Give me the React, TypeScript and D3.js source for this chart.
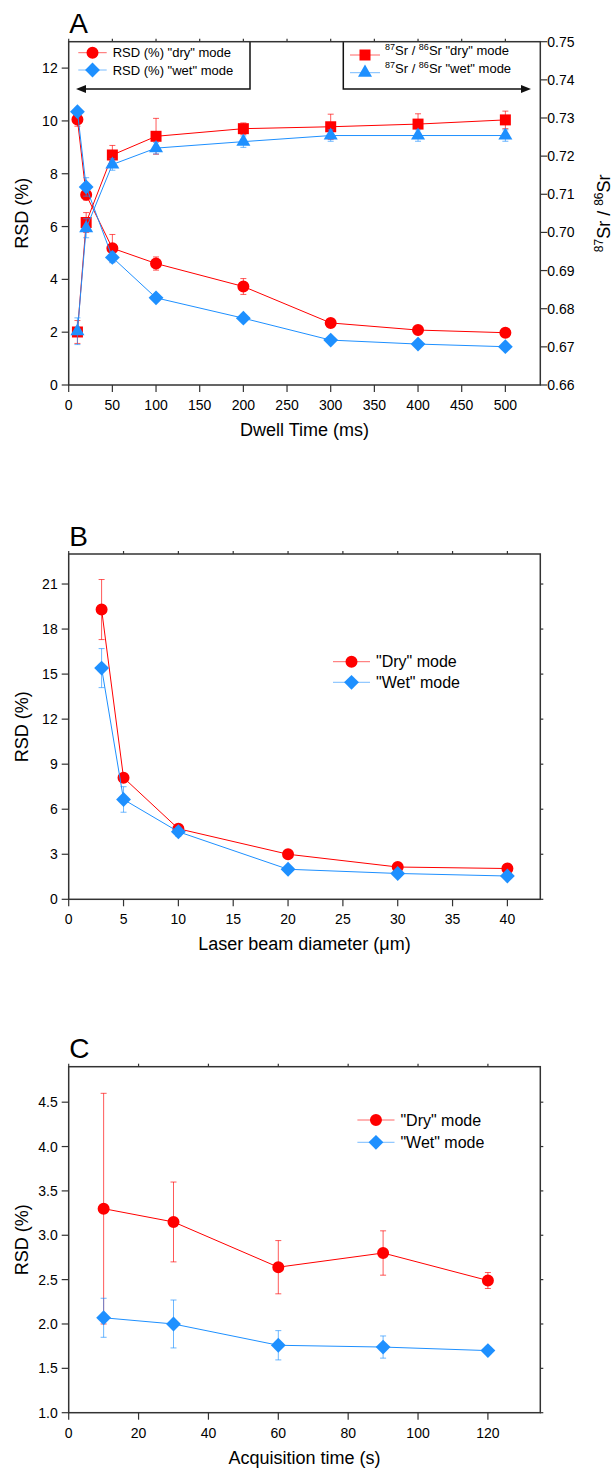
import React from "react";
import * as d3 from "d3";

const FONT = "'Liberation Sans', Arial, Helvetica, sans-serif";
const RED = "#ff0000";
const BLUE = "#1e90ff";
const AXIS = "#333333";

// ---- panel A: dwell time ----
const dwellTime = [10, 20, 50, 100, 200, 300, 400, 500];
const rsdDryA = [10.05, 7.2, 5.18, 4.6, 3.73, 2.35, 2.08, 1.98];
const rsdDryAErr = [0.25, 0.2, 0.52, 0.25, 0.3, 0.15, 0.1, 0.1];
const rsdWetA = [10.35, 7.5, 4.83, 3.3, 2.53, 1.7, 1.55, 1.45];
const rsdWetAErr = [0.1, 0.35, 0.2, 0.1, 0.1, 0.08, 0.08, 0.05];
const srDryA = [0.6739, 0.7026, 0.7203, 0.7252, 0.7272, 0.7277, 0.7284, 0.7295];
const srDryAErr = [0.003, 0.0026, 0.0025, 0.0047, 0.0015, 0.0033, 0.0027, 0.0023];
const srWetA = [0.6741, 0.7011, 0.7178, 0.7221, 0.7238, 0.7254, 0.7254, 0.7254];
const srWetAErr = [0.0035, 0.0025, 0.0015, 0.0015, 0.0015, 0.0015, 0.0015, 0.0015];
const dwellTicks = d3.range(0, 501, 50);
const rsdTicksA = d3.range(0, 13, 2);
const srTicks = d3.range(66, 76).map((d) => d / 100);

// ---- panel B: laser beam diameter ----
const beamDiameter = [3, 5, 10, 20, 30, 40];
const rsdDryB = [19.3, 8.1, 4.7, 3.0, 2.15, 2.05];
const rsdDryBErr = [2.0, 0.25, 0.25, 0.15, 0.15, 0.2];
const rsdWetB = [15.4, 6.65, 4.5, 2.0, 1.72, 1.55];
const rsdWetBErr = [1.3, 0.85, 0.3, 0.15, 0.15, 0.1];
const beamTicks = d3.range(0, 41, 5);
const rsdTicksB = d3.range(0, 22, 3);

// ---- panel C: acquisition time ----
const acqTime = [10, 30, 60, 90, 120];
const rsdDryC = [3.3, 3.15, 2.64, 2.8, 2.49];
const rsdDryCErr = [1.3, 0.45, 0.3, 0.25, 0.09];
const rsdWetC = [2.07, 2.0, 1.76, 1.74, 1.7];
const rsdWetCErr = [0.22, 0.27, 0.165, 0.125, 0.04];
const acqTicks = d3.range(0, 121, 20);
const rsdTicksC = d3.range(1, 4.51, 0.5);

const diamond = {
  draw(ctx: any, size: number) {
    const r = Math.sqrt(size / 2);
    ctx.moveTo(0, -r);
    ctx.lineTo(r, 0);
    ctx.lineTo(0, r);
    ctx.lineTo(-r, 0);
    ctx.closePath();
  },
};

const SYM: any = {
  circle: { type: d3.symbolCircle, size: 113 },
  diamond: { type: diamond, size: 110 },
  square: { type: d3.symbolSquare, size: 121 },
  triangle: { type: d3.symbolTriangle, size: 85 },
};

const symPath = (s: string) => d3.symbol().type(SYM[s].type).size(SYM[s].size)() as string;

const LEFT = 68.7;
const RIGHT = 540.3;

function Series({ x, y, err, color, symbol, xs, ys }: any) {
  const line = d3
    .line<number>()
    .x((d, i) => xs(x[i]))
    .y((d) => ys(d));
  const marker = symPath(symbol);
  return (
    <g>
      {y.map((v: number, i: number) => {
        const cx = xs(x[i]);
        const y1 = ys(v + err[i]);
        const y2 = ys(v - err[i]);
        return (
          <g key={"e" + i} stroke={color} strokeOpacity={0.65} strokeWidth={1}>
            <line x1={cx} x2={cx} y1={y1} y2={y2} />
            <line x1={cx - 3} x2={cx + 3} y1={y1} y2={y1} />
            <line x1={cx - 3} x2={cx + 3} y1={y2} y2={y2} />
          </g>
        );
      })}
      <path d={line(y) as string} fill="none" stroke={color} strokeWidth={1} />
      {y.map((v: number, i: number) => (
        <path key={"m" + i} d={marker} transform={`translate(${xs(x[i])},${ys(v)})`} fill={color} />
      ))}
    </g>
  );
}

function LegendRow({ x1, x2, y, textX, color, symbol, fontSize, children, lineOpacity = 0.6 }: any) {
  const cx = (x1 + x2) / 2;
  return (
    <g>
      <line x1={x1} x2={x2} y1={y} y2={y} stroke={color} strokeOpacity={lineOpacity} strokeWidth={1} />
      <path d={symPath(symbol)} transform={`translate(${cx},${y})`} fill={color} />
      <text x={textX} y={y} dy="0.36em" fontSize={fontSize} fontFamily={FONT} fill="#000">
        {children}
      </text>
    </g>
  );
}

function Panel({ top, bottom, xDomain, yDomain, xTicks, yTicks, yFmt, xTitle, label, series, y2, children, mirrorRight = true }: any) {
  const xs = d3.scaleLinear().domain(xDomain).range([LEFT, RIGHT]);
  const ys = d3.scaleLinear().domain(yDomain).range([bottom, top]);
  const y2s = y2 ? d3.scaleLinear().domain(y2.domain).range([bottom, top]) : null;
  const fmt = d3.format(yFmt);
  const midY = (top + bottom) / 2;
  return (
    <g fontFamily={FONT}>
      <text x={LEFT + 0.5} y={top - 8.5} fontSize={28} fill="#000">
        {label}
      </text>
      {series.map((s: any, i: number) => (
        <Series key={i} {...s} xs={xs} ys={s.axis === "y2" && y2s ? y2s : ys} />
      ))}
      {children}
      <rect x={LEFT} y={top} width={RIGHT - LEFT} height={bottom - top} fill="none" stroke={AXIS} strokeWidth={1.5} />
      {/* bottom axis */}
      {xTicks.map((t: number) => (
        <g key={"x" + t}>
          <line x1={xs(t)} x2={xs(t)} y1={bottom} y2={bottom + 7} stroke={AXIS} strokeWidth={1.2} />
          <line x1={xs(t)} x2={xs(t)} y1={top} y2={top - 3} stroke={AXIS} strokeWidth={1.2} />
          <text x={xs(t)} y={bottom + 25} textAnchor="middle" fontSize={14}>
            {t}
          </text>
        </g>
      ))}
      {/* left axis */}
      {yTicks.map((t: number) => (
        <g key={"y" + t}>
          <line x1={LEFT - 7} x2={LEFT} y1={ys(t)} y2={ys(t)} stroke={AXIS} strokeWidth={1.2} />
          {mirrorRight && <line x1={RIGHT} x2={RIGHT + 3} y1={ys(t)} y2={ys(t)} stroke={AXIS} strokeWidth={1.2} />}
          <text x={LEFT - 11} y={ys(t)} dy="0.36em" textAnchor="end" fontSize={14}>
            {fmt(t)}
          </text>
        </g>
      ))}
      {/* right axis */}
      {y2s &&
        y2.ticks.map((t: number) => (
          <g key={"r" + t}>
            <line x1={RIGHT} x2={RIGHT + 7} y1={y2s(t)} y2={y2s(t)} stroke={AXIS} strokeWidth={1.2} />
            <text x={RIGHT + 7} y={y2s(t)} dy="0.36em" fontSize={14}>
              {d3.format(".2f")(t)}
            </text>
          </g>
        ))}
      <text x={(LEFT + RIGHT) / 2} y={bottom + 51} textAnchor="middle" fontSize={18}>
        {xTitle}
      </text>
      <text transform={`translate(28,${midY}) rotate(-90)`} textAnchor="middle" fontSize={18}>
        RSD (%)
      </text>
      {y2 && (
        <text transform={`translate(609.5,${midY}) rotate(-90)`} textAnchor="middle" fontSize={18}>
          <tspan fontSize={12} dy="-7">87</tspan>
          <tspan dy="7">Sr / </tspan>
          <tspan fontSize={12} dy="-7">86</tspan>
          <tspan dy="7">Sr</tspan>
        </text>
      )}
    </g>
  );
}

function Sr({ a, b }: any) {
  return (
    <>
      <tspan fontSize={9} dy="-5">{a}</tspan>
      <tspan dy="5">Sr / </tspan>
      <tspan fontSize={9} dy="-5">{b}</tspan>
      <tspan dy="5">Sr </tspan>
    </>
  );
}

export default function App() {
  const topA = 41.7;
  const boxBottom = 89;
  return (
    <svg width={613} height={1470} style={{ position: "absolute", left: 0, top: 0, background: "#fff" }}>
      <Panel
        top={topA}
        bottom={385}
        xDomain={[0, 540]}
        yDomain={[0, 13]}
        xTicks={dwellTicks}
        yTicks={rsdTicksA}
        yFmt="d"
        xTitle="Dwell Time (ms)"
        label="A"
        mirrorRight={false}
        y2={{ domain: [0.66, 0.75], ticks: srTicks }}
        series={[
          { x: dwellTime, y: rsdDryA, err: rsdDryAErr, color: RED, symbol: "circle" },
          { x: dwellTime, y: rsdWetA, err: rsdWetAErr, color: BLUE, symbol: "diamond" },
          { x: dwellTime, y: srDryA, err: srDryAErr, color: RED, symbol: "square", axis: "y2" },
          { x: dwellTime, y: srWetA, err: srWetAErr, color: BLUE, symbol: "triangle", axis: "y2" },
        ]}
      >
        <g stroke="#111" strokeWidth={1.5} fill="none">
          <polyline points={`250,${topA} 250,${boxBottom} 84,${boxBottom}`} />
          <polyline points={`343.3,${topA} 343.3,${boxBottom} 523,${boxBottom}`} />
        </g>
        <path d={`M76,${boxBottom} L86,${boxBottom - 4} L86,${boxBottom + 4} Z`} fill="#111" />
        <path d={`M531,${boxBottom} L521,${boxBottom - 4} L521,${boxBottom + 4} Z`} fill="#111" />
        <LegendRow x1={78.3} x2={106.7} y={52.7} textX={112.7} color={RED} symbol="circle" fontSize={13}>
          RSD (%) "dry" mode
        </LegendRow>
        <LegendRow x1={78.3} x2={106.7} y={70} textX={112.7} color={BLUE} symbol="diamond" fontSize={13}>
          RSD (%) "wet" mode
        </LegendRow>
        <LegendRow x1={350} x2={380} y={55} textX={385} color={RED} symbol="square" fontSize={13}>
          <Sr a="87" b="86" />"dry" mode
        </LegendRow>
        <LegendRow x1={350} x2={380} y={72.7} textX={385} color={BLUE} symbol="triangle" fontSize={13}>
          <Sr a="87" b="86" />"wet" mode
        </LegendRow>
      </Panel>

      <Panel
        top={554}
        bottom={899.3}
        xDomain={[0, 43]}
        yDomain={[0, 23]}
        xTicks={beamTicks}
        yTicks={rsdTicksB}
        yFmt="d"
        xTitle="Laser beam diameter (μm)"
        label="B"
        series={[
          { x: beamDiameter, y: rsdDryB, err: rsdDryBErr, color: RED, symbol: "circle" },
          { x: beamDiameter, y: rsdWetB, err: rsdWetBErr, color: BLUE, symbol: "diamond" },
        ]}
      >
        <LegendRow x1={333} x2={370} y={661.7} textX={376} color={RED} symbol="circle" fontSize={16}>
          "Dry" mode
        </LegendRow>
        <LegendRow x1={333} x2={370} y={682.3} textX={376} color={BLUE} symbol="diamond" fontSize={16}>
          "Wet" mode
        </LegendRow>
      </Panel>

      <Panel
        top={1066.7}
        bottom={1412.7}
        xDomain={[0, 135]}
        yDomain={[1, 4.9]}
        xTicks={acqTicks}
        yTicks={rsdTicksC}
        yFmt=".1f"
        xTitle="Acquisition time (s)"
        label="C"
        series={[
          { x: acqTime, y: rsdDryC, err: rsdDryCErr, color: RED, symbol: "circle" },
          { x: acqTime, y: rsdWetC, err: rsdWetCErr, color: BLUE, symbol: "diamond" },
        ]}
      >
        <LegendRow x1={357.4} x2={394.5} y={1120} textX={400.4} color={RED} symbol="circle" fontSize={16}>
          "Dry" mode
        </LegendRow>
        <LegendRow x1={357.4} x2={394.5} y={1142.3} textX={400.4} color={BLUE} symbol="diamond" fontSize={16}>
          "Wet" mode
        </LegendRow>
      </Panel>
    </svg>
  );
}
